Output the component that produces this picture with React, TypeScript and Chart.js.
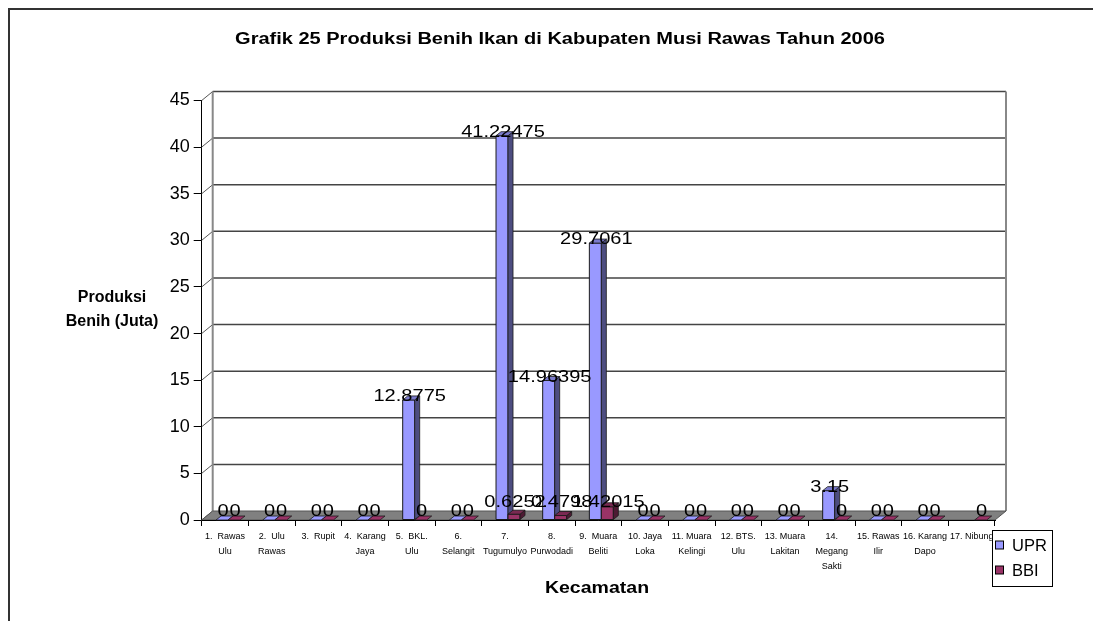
import React, { useEffect, useRef } from "react";
import { Chart, registerables } from "chart.js";

Chart.register(...registerables);

const TITLE = "Grafik 25 Produksi Benih Ikan di Kabupaten Musi Rawas Tahun 2006";
const Y_TITLE = ["Produksi", "Benih (Juta)"];
const X_TITLE = "Kecamatan";

const categories: string[][] = [
  ["1.  Rawas", "Ulu"],
  ["2.  Ulu", "Rawas"],
  ["3.  Rupit"],
  ["4.  Karang", "Jaya"],
  ["5.  BKL.", "Ulu"],
  ["6.", "Selangit"],
  ["7.", "Tugumulyo"],
  ["8.", "Purwodadi"],
  ["9.  Muara", "Beliti"],
  ["10. Jaya", "Loka"],
  ["11. Muara", "Kelingi"],
  ["12. BTS.", "Ulu"],
  ["13. Muara", "Lakitan"],
  ["14.", "Megang", "Sakti"],
  ["15. Rawas", "Ilir"],
  ["16. Karang", "Dapo"],
  ["17. Nibung"],
];

const seriesNames = ["UPR", "BBI"];
const uprValues: (number | null)[] = [0, 0, 0, 0, 12.8775, 0, 41.22475, 14.96395, 29.7061, 0, 0, 0, 0, 3.15, 0, 0, null];
const bbiValues: (number | null)[] = [0, 0, 0, 0, 0, 0, 0.6252, 0.4798, 1.42015, 0, 0, 0, 0, 0, 0, 0, 0];
const uprLabels: string[] = ["0", "0", "0", "0", "12.8775", "0", "41.22475", "14.96395", "29.7061", "0", "0", "0", "0", "3.15", "0", "0", ""];
const bbiLabels: string[] = ["0", "0", "0", "0", "0", "0", "0.6252", "0.4798", "1.42015", "0", "0", "0", "0", "0", "0", "0", "0"];

const Y_MIN = 0;
const Y_MAX = 45;
const Y_STEP = 5;

const FAMILY = "'Liberation Sans', Arial, Helvetica, sans-serif";
const COLORS = {
  front: ["#9999FF", "#993366"],
  side: ["#4D4D80", "#4D1A33"],
  top: ["#7A7ACC", "#7A2952"],
  edge: "#1a1a1a",
};

const WALL_DX = 11;
const WALL_DY = -9;
const BAR_DX = 5;
const BAR_DY = -4;
const SHIFT = 3;

function stretchText(ctx: CanvasRenderingContext2D, text: string, x: number, y: number, sx: number) {
  ctx.save();
  ctx.translate(x, y);
  ctx.scale(sx, 1);
  ctx.fillText(text, 0, 0);
  ctx.restore();
}

function poly(ctx: CanvasRenderingContext2D, pts: number[][], fill: string, stroke: string, lw = 1) {
  ctx.beginPath();
  ctx.moveTo(pts[0][0], pts[0][1]);
  for (let i = 1; i < pts.length; i++) ctx.lineTo(pts[i][0], pts[i][1]);
  ctx.closePath();
  if (fill) {
    ctx.fillStyle = fill;
    ctx.fill();
  }
  if (stroke) {
    ctx.strokeStyle = stroke;
    ctx.lineWidth = lw;
    ctx.stroke();
  }
}

const decorPlugin = {
  id: "decor3d",
  beforeDraw(chart: any) {
    const ctx: CanvasRenderingContext2D = chart.ctx;
    ctx.save();
    ctx.fillStyle = "#fff";
    ctx.fillRect(0, 0, chart.width, chart.height);
    ctx.strokeStyle = "#333";
    ctx.lineWidth = 2;
    ctx.beginPath();
    ctx.moveTo(9, chart.height + 2);
    ctx.lineTo(9, 9);
    ctx.lineTo(chart.width + 2, 9);
    ctx.stroke();
    ctx.restore();
  },
  beforeDatasetsDraw(chart: any) {
    const ctx: CanvasRenderingContext2D = chart.ctx;
    const a = chart.chartArea;
    const y = chart.scales.y;
    ctx.save();
    for (const t of y.ticks) {
      const py = y.getPixelForValue(t.value);
      if (t.value !== Y_MIN) {
        ctx.strokeStyle = "#444";
        ctx.lineWidth = 1.5;
        ctx.beginPath();
        ctx.moveTo(a.left + WALL_DX, py + WALL_DY);
        ctx.lineTo(a.right + WALL_DX, py + WALL_DY);
        ctx.stroke();
      }
      ctx.strokeStyle = "#555";
      ctx.lineWidth = 1;
      ctx.beginPath();
      ctx.moveTo(a.left, py);
      ctx.lineTo(a.left + WALL_DX, py + WALL_DY);
      ctx.stroke();
    }
    ctx.strokeStyle = "#888";
    ctx.lineWidth = 2;
    ctx.beginPath();
    ctx.moveTo(a.left + WALL_DX, a.bottom + WALL_DY);
    ctx.lineTo(a.left + WALL_DX, a.top + WALL_DY);
    ctx.moveTo(a.right + WALL_DX, a.bottom + WALL_DY);
    ctx.lineTo(a.right + WALL_DX, a.top + WALL_DY);
    ctx.stroke();
    poly(
      ctx,
      [
        [a.left, a.bottom],
        [a.right, a.bottom],
        [a.right + WALL_DX, a.bottom + WALL_DY],
        [a.left + WALL_DX, a.bottom + WALL_DY],
      ],
      "#808080",
      "#555",
      1
    );
    ctx.strokeStyle = "#000";
    ctx.lineWidth = 1;
    ctx.beginPath();
    ctx.moveTo(a.left, a.bottom + 0.5);
    ctx.lineTo(a.right, a.bottom + 0.5);
    ctx.stroke();
    ctx.restore();
  },
  afterDatasetsDraw(chart: any) {
    const ctx: CanvasRenderingContext2D = chart.ctx;
    ctx.save();
    ctx.translate(SHIFT, 0);
    const n = chart.data.labels.length;
    const nds = chart.data.datasets.length;
    for (let i = 0; i < n; i++) {
      for (let di = 0; di < nds; di++) {
        const v = chart.data.datasets[di].data[i];
        if (v === null || v === undefined) continue;
        const el: any = chart.getDatasetMeta(di).data[i];
        const w = el.width;
        const l = el.x - w / 2;
        const r = el.x + w / 2;
        const top = el.y;
        const base = el.base;
        if (v === 0) {
          poly(
            ctx,
            [
              [l, base],
              [r, base],
              [r + BAR_DX, base + BAR_DY],
              [l + BAR_DX, base + BAR_DY],
            ],
            COLORS.front[di],
            COLORS.edge,
            0.8
          );
        } else {
          poly(ctx, [[l, top], [r, top], [r, base], [l, base]], COLORS.front[di], COLORS.edge, 1);
          poly(
            ctx,
            [
              [r, top],
              [r + BAR_DX, top + BAR_DY],
              [r + BAR_DX, base + BAR_DY],
              [r, base],
            ],
            COLORS.side[di],
            COLORS.edge,
            0.8
          );
          poly(
            ctx,
            [
              [l, top],
              [r, top],
              [r + BAR_DX, top + BAR_DY],
              [l + BAR_DX, top + BAR_DY],
            ],
            COLORS.top[di],
            COLORS.edge,
            0.8
          );
        }
      }
    }
    ctx.fillStyle = "#000";
    ctx.textAlign = "center";
    ctx.textBaseline = "alphabetic";
    ctx.font = `17px ${FAMILY}`;
    const labelSets = [uprLabels, bbiLabels];
    chart.data.datasets.forEach((ds: any, di: number) => {
      const meta = chart.getDatasetMeta(di);
      meta.data.forEach((el: any, i: number) => {
        const v = ds.data[i];
        const txt = labelSets[di][i];
        if (v === null || v === undefined || !txt) return;
        const by = v === 0 ? el.base - 4 : Math.min(el.y + 1, el.base - 13);
        stretchText(ctx, txt, el.x + 1, by, 1.18);
      });
    });
    ctx.restore();
  },
  afterDraw(chart: any) {
    const ctx: CanvasRenderingContext2D = chart.ctx;
    ctx.save();
    ctx.fillStyle = "#000";
    ctx.textAlign = "center";
    ctx.textBaseline = "middle";
    ctx.font = `bold 16px ${FAMILY}`;
    stretchText(ctx, TITLE, 560, 40, 1.25);
    ctx.fillText(Y_TITLE[0], 112, 298);
    ctx.fillText(Y_TITLE[1], 112, 322);
    stretchText(ctx, X_TITLE, 597, 589, 1.22);

    const lx = 992.5, ly = 530.5, lw = 60, lh = 56;
    ctx.fillStyle = "#fff";
    ctx.fillRect(lx, ly, lw, lh);
    ctx.strokeStyle = "#000";
    ctx.lineWidth = 1;
    ctx.strokeRect(lx, ly, lw, lh);
    ctx.font = `16.5px ${FAMILY}`;
    ctx.textAlign = "left";
    seriesNames.forEach((name, i) => {
      const cy = 545.5 + i * 25;
      ctx.fillStyle = COLORS.front[i];
      ctx.fillRect(995.5, cy - 4.5, 8, 8);
      ctx.strokeStyle = "#000";
      ctx.strokeRect(995.5, cy - 4.5, 8, 8);
      ctx.fillStyle = "#000";
      ctx.fillText(name, 1012, cy + 1);
    });
    ctx.restore();
  },
};

export default function App() {
  const ref = useRef<HTMLCanvasElement | null>(null);
  useEffect(() => {
    if (!ref.current) return;
    const chart = new Chart(ref.current, {
      type: "bar",
      data: {
        labels: categories as any,
        datasets: [
          {
            label: seriesNames[0],
            data: uprValues as any,
            backgroundColor: "rgba(0,0,0,0)",
            borderWidth: 0,
            categoryPercentage: 24 / 46.67,
            barPercentage: 1,
          },
          {
            label: seriesNames[1],
            data: bbiValues as any,
            backgroundColor: "rgba(0,0,0,0)",
            borderWidth: 0,
            categoryPercentage: 24 / 46.67,
            barPercentage: 1,
          },
        ],
      },
      options: {
        responsive: false,
        animation: false,
        devicePixelRatio: 1,
        layout: { padding: { left: 0, right: 98, top: 100.5, bottom: 0 } },
        plugins: {
          legend: { display: false },
          title: { display: false },
          tooltip: { enabled: false },
        },
        scales: {
          x: {
            type: "category",
            offset: true,
            grid: {
              display: true,
              drawOnChartArea: false,
              drawTicks: true,
              tickLength: 6,
              color: "#000",
              offset: true,
            },
            border: { display: true, color: "#000", width: 1 },
            ticks: {
              font: { size: 9, family: FAMILY, lineHeight: 1.65 },
              color: "#000",
              maxRotation: 0,
              minRotation: 0,
              autoSkip: false,
              padding: 3,
            },
            afterFit: (s: any) => {
              s.height = 101;
            },
          },
          y: {
            min: Y_MIN,
            max: Y_MAX,
            ticks: {
              stepSize: Y_STEP,
              font: { size: 18, family: FAMILY },
              color: "#000",
              padding: 4,
            },
            grid: {
              drawOnChartArea: false,
              drawTicks: true,
              tickLength: 8,
              color: "#000",
            },
            border: { display: true, color: "#000", width: 1 },
            afterFit: (s: any) => {
              s.width = 201.7;
            },
          },
        },
      },
      plugins: [decorPlugin],
    } as any);
    return () => chart.destroy();
  }, []);
  return (
    <div style={{ position: "fixed", left: 0, top: 0, width: 1093, height: 621, background: "#fff" }}>
      <canvas ref={ref} width={1093} height={621} style={{ width: 1093, height: 621, display: "block" }} />
    </div>
  );
}
